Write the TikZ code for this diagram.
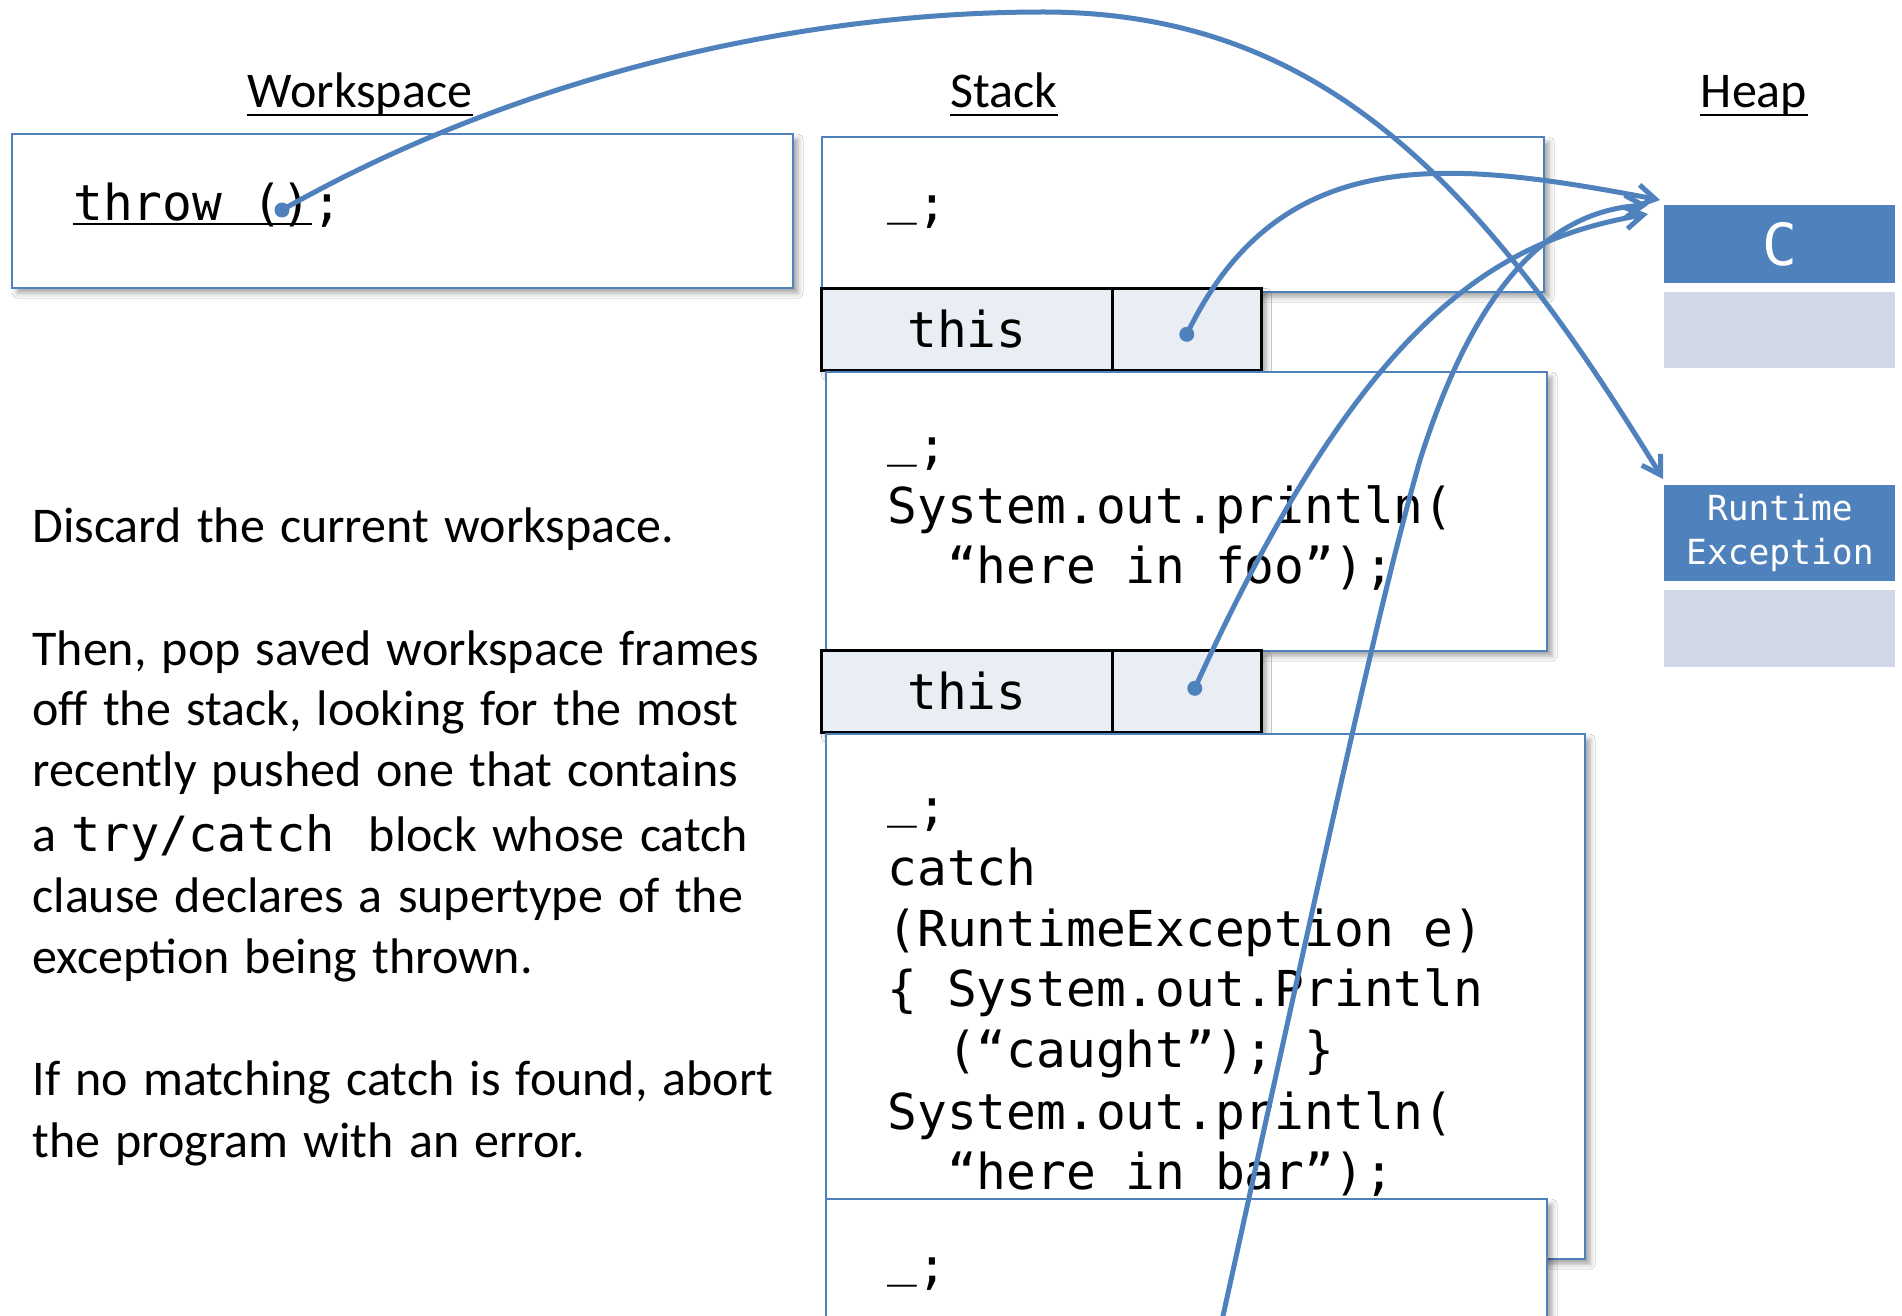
\documentclass[tikz,border=0pt]{standalone}
\usepackage{fontspec}
\setmainfont{Carlito}
\newfontfamily\codefont{DejaVu Sans Mono}
\usetikzlibrary{arrows.meta,calc,shadows.blur}
\definecolor{accent}{HTML}{4F81BD}
\definecolor{rowfill}{HTML}{E9EDF4}
\definecolor{heaplight}{HTML}{D0D8E8}
\newcommand{\usc}{\raisebox{4pt}{\_}}
\newcommand{\widesp}{\spaceskip=7.6pt plus 1pt minus 1pt\relax}
\begin{document}
\begin{tikzpicture}[x=0.5pt,y=-0.5pt,
  frame/.style={draw=accent, line width=1.2pt, fill=white, anchor=north west, inner sep=0pt,
    blur shadow={shadow xshift=2.5pt, shadow yshift=-2.5pt, shadow blur radius=2.5pt, shadow opacity=35}},
  cell/.style={draw=black, line width=1.3pt, fill=rowfill, anchor=north west, inner sep=0pt,
    minimum height=41pt, font=\codefont\fontsize{24.75pt}{30pt}\selectfont,
    blur shadow={shadow xshift=2.5pt, shadow yshift=-2.5pt, shadow blur radius=2.5pt, shadow opacity=35}},
  code/.style={anchor=base west, inner sep=0pt, font=\codefont\fontsize{24.75pt}{30pt}\selectfont},
  txt/.style={anchor=base west, inner sep=0pt, font=\fontsize{25pt}{30pt}\selectfont\widesp},
  hdr/.style={anchor=base, inner sep=0pt, font=\fontsize{25pt}{30pt}\selectfont},
  heapdark/.style={fill=accent, anchor=north west, inner sep=0pt, minimum width=115.5pt, text=white},
  heaplt/.style={fill=heaplight, anchor=north west, inner sep=0pt, minimum width=115.5pt},
  arr/.style={draw=accent, line width=2.5pt, -{Straight Barb[length=9pt,width=11pt]}},
  uline/.style={line width=1.2pt}
]
\clip (0,0) rectangle (1902,1316);
\fill[white] (0,0) rectangle (1902,1316);

% headers
\node[hdr] (hws) at (360,108) {Workspace};
\node[hdr] (hst) at (1004,108) {Stack};
\node[hdr] (hhp) at (1754,108) {Heap};
\foreach \h in {hws,hst,hhp}
  \draw[uline] ([yshift=-3.5pt]\h.base west) -- ([yshift=-3.5pt]\h.base east);

% workspace
\node[frame, minimum width=390.5pt, minimum height=77pt] (ws) at (11,133) {};
\node[code] (thr) at (73,221) {throw ()};
\node[code] (semi) at (thr.base east) {;};
\draw[uline] ([yshift=-1.5pt]thr.base west) -- ([yshift=-1.5pt]thr.base east);

% stack
\node[frame, minimum width=361pt, minimum height=77.5pt] (f1) at (821,136) {};
\node[code] (f1a) at (887,222) {\usc;};

\node[cell, minimum width=145.5pt] (t1) at (820,287) {this};
\node[cell, minimum width=74.5pt] (v1) at (1111,287) {};

\node[frame, minimum width=360.5pt, minimum height=139.5pt] (f2) at (825,371) {};
\node[code] (f2a) at (887,463) {\usc;};
\node[code] (f2b) at (887,523) {System.out.println(};
\node[code] (f2c) at (887,583) {\ \ “here in foo”);};

\node[cell, minimum width=145.5pt] (t2) at (820,649) {this};
\node[cell, minimum width=74.5pt] (v2) at (1111,649) {};

\node[frame, minimum width=379.5pt, minimum height=262.5pt] (f3) at (825,733) {};
\node[code] (f3a) at (887,824) {\usc;};
\node[code] (f3b) at (887,885) {catch};
\node[code] (f3c) at (887,946) {(RuntimeException e)};
\node[code] (f3d) at (887,1006) {\{ System.out.Println};
\node[code] (f3e) at (887,1067) {\ \ (“caught”); \}};
\node[code] (f3f) at (887,1129) {System.out.println(};
\node[code] (f3g) at (887,1189) {\ \ “here in bar”);};

\node[frame, minimum width=360.5pt, minimum height=70pt] (f4) at (825,1198) {};
\node[code] (f4a) at (887,1283) {\usc;};

% heap
\node[heapdark, minimum height=39pt, font=\codefont\fontsize{29pt}{34pt}\selectfont] (hc) at (1664,205) {C};
\node[heaplt, minimum height=38pt] (hc2) at (1664,292) {};
\node[heapdark, minimum height=48pt, align=center, font=\codefont\fontsize{17.3pt}{22pt}\selectfont] (hre) at (1664,485) {Runtime\\Exception};
\node[heaplt, minimum height=38.5pt] (hre2) at (1664,590) {};

% explanation
\node[txt] (l1) at (32,542) {Discard the current workspace.};
\node[txt] (l2) at (32,665) {Then, pop saved workspace frames};
\node[txt] (l3) at (32,725) {off the stack, looking for the most};
\node[txt] (l4) at (32,786) {recently pushed one that contains};
\node[txt] (l5) at (32,851) {a {\codefont\fontsize{24.3pt}{30pt}\selectfont try/catch}\hspace{17pt}block whose catch};
\node[txt] (l6) at (32,912) {clause declares a supertype of the};
\node[txt] (l7) at (32,973) {exception being thrown.};
\node[txt] (l8) at (32,1095) {If no matching catch is found, abort};
\node[txt] (l9) at (32,1157) {the program with an error.};

% pointers
\coordinate (tdot) at (282,210);
\coordinate (d1) at ($(v1.center)+(0,5)$);
\coordinate (d2) at ($(v2.center)+(8,-3)$);
\coordinate (offbottom) at (1221,1325);

\draw[arr] (tdot) .. controls (520,75) and (800,12) .. (1043,12)
  .. controls (1320,12) and (1480,180) .. ([xshift=-0.5pt,yshift=3pt]hre.north west);
\draw[arr] (d1) .. controls (1280,140) and (1450,160) .. ([xshift=-2pt,yshift=2.5pt]hc.north west);
\draw[arr] (d2) .. controls (1366,312) and (1500,240) .. ([xshift=-8pt,yshift=-4.5pt]hc.north west);
\draw[arr] (offbottom) .. controls (1330,830) and (1380,600) .. (1420,460)
  .. controls (1480,270) and (1560,210) .. ([xshift=-8pt]hc.north west);

\foreach \d in {tdot,d1,d2}
  \fill[accent] (\d) circle (3.75pt);
\end{tikzpicture}
\end{document}
